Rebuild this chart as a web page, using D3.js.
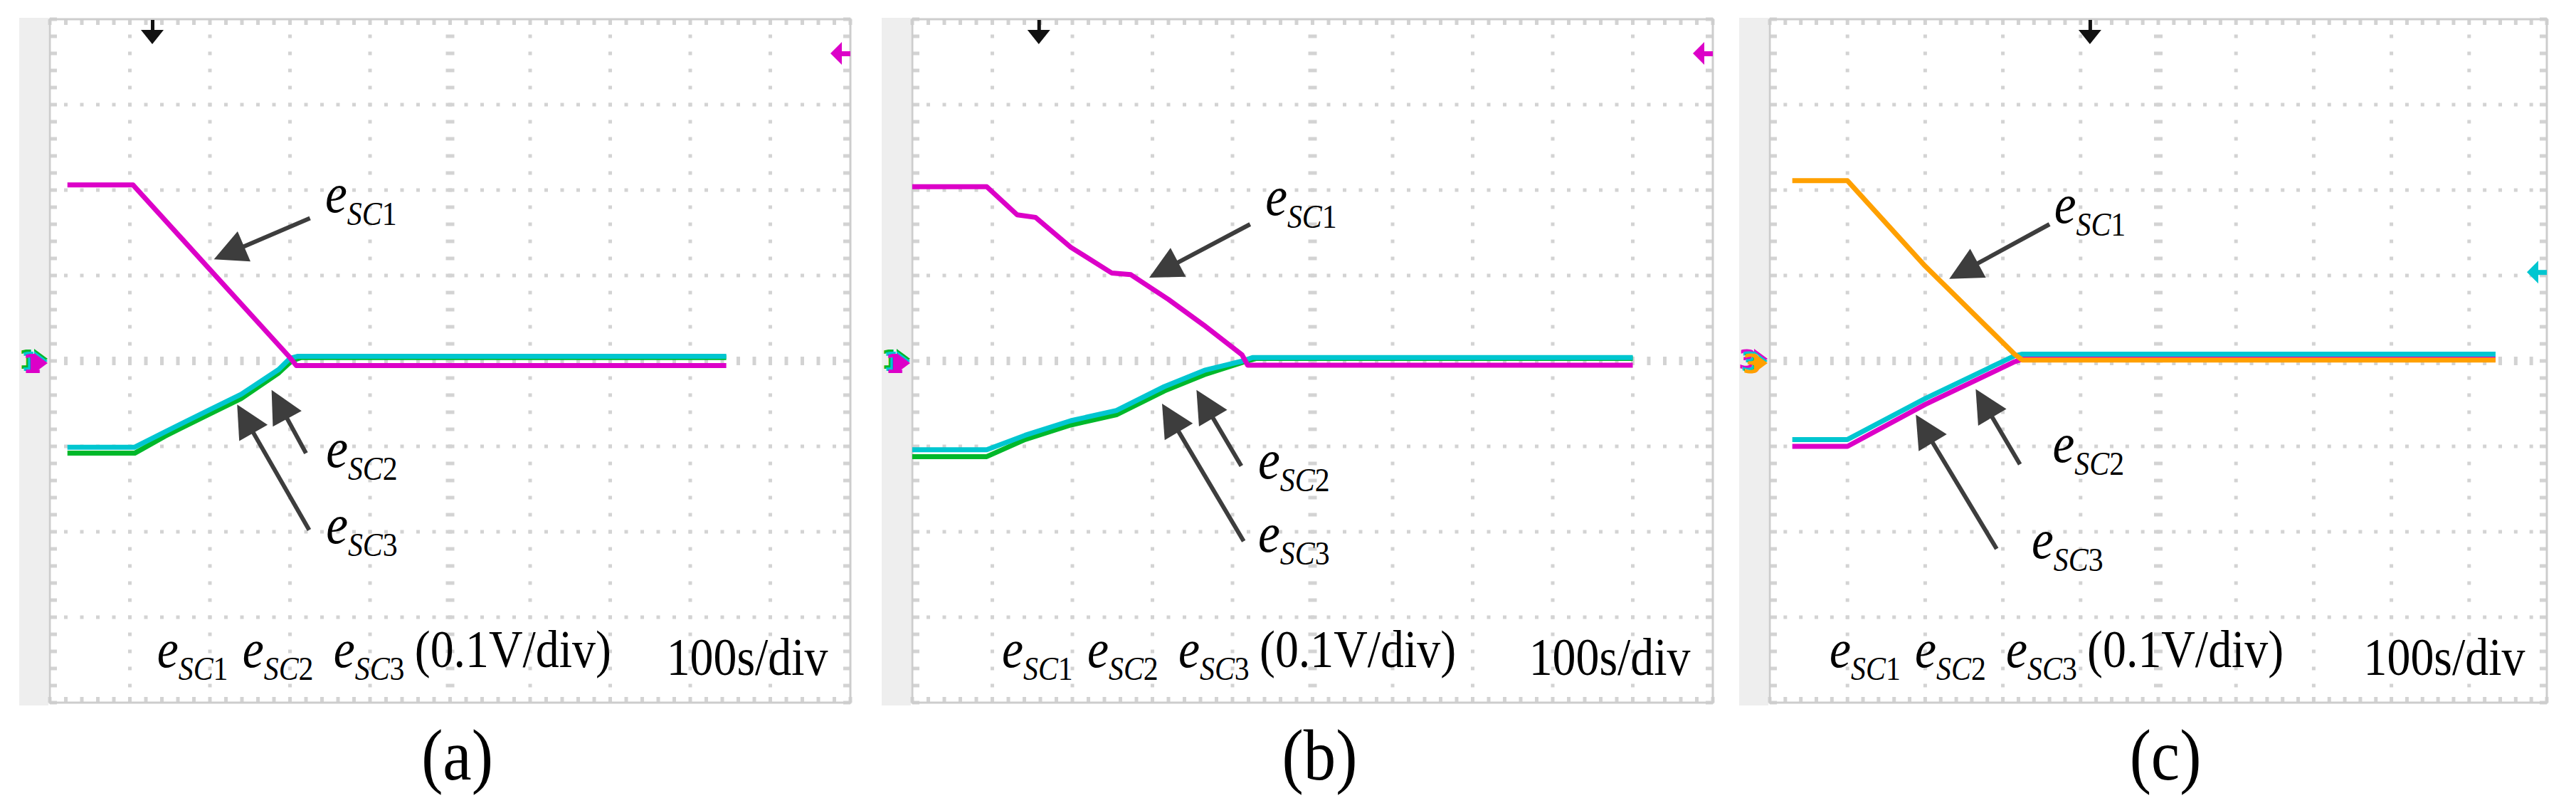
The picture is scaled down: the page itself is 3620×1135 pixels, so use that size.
<!DOCTYPE html>
<html>
<head>
<meta charset="utf-8">
<script src="https://cdn.jsdelivr.net/npm/d3@7"></script>
<style>
  body { margin: 0; background: #fff; }
  svg { display: block; }
  text { white-space: pre; font-family: 'Liberation Serif', 'Times New Roman', 'DejaVu Serif', serif; }
</style>
</head>
<body>
<svg id="chart"></svg>
<script>
const width = 3620
const height = 1135

// time in s (100 s/div), voltage in V about the centre line (0.1 V/div)
const panelLabels = ['(a)', '(b)', '(c)']
const seriesIds = ['1', '2', '3']
const voltText = '(0.1V/div)'
const timeText = '100s/div'

// panel (a) traces, [t, v]
const a_eSC1 = [[22, 0.206], [104, 0.206], [200, 0.107], [299, 0.005], [308, -0.0055], [845, -0.0055]]
const a_eSC2 = [[22, -0.101], [106, -0.101], [144, -0.083], [200, -0.057], [239, -0.039], [286, -0.010], [300, 0.003], [310, 0.0055], [845, 0.0055]]
const a_eSC3 = [[22, -0.108], [106, -0.108], [144, -0.088], [200, -0.062], [239, -0.044], [286, -0.014], [302, 0.0], [314, 0.004], [845, 0.004]]

// panel (b)
const b_eSC1 = [[0, 0.204], [93, 0.204], [131, 0.171], [154, 0.168], [198, 0.133], [249, 0.103], [273, 0.101], [320, 0.072], [364, 0.042], [412, 0.007], [419, -0.005], [900, -0.005]]
const b_eSC2 = [[0, -0.104], [93, -0.104], [141, -0.087], [198, -0.070], [255, -0.058], [315, -0.030], [365, -0.011], [413, 0.0], [425, 0.004], [900, 0.004]]
const b_eSC3 = [[0, -0.112], [93, -0.112], [141, -0.092], [198, -0.075], [255, -0.063], [315, -0.035], [365, -0.016], [415, -0.001], [430, 0.003], [900, 0.003]]

// panel (c)
const c_eSC1 = [[29, 0.211], [100, 0.211], [200, 0.111], [315, 0.008], [325, 0.001], [934, 0.001]]
const c_eSC2 = [[29, -0.092], [100, -0.092], [200, -0.044], [315, 0.006], [325, 0.008], [934, 0.008]]
const c_eSC3 = [[29, -0.100], [100, -0.100], [200, -0.051], [315, -0.001], [325, 0.002], [934, 0.002]]

// scope markers
const triggerTimes = [128, 158, 412]
const levelVolts = [0.36, 0.36, 0.104]
const channelDigits = ['1', '1', '3']

// annotation anchors [t, v]: label start, arrow tail, arrow tip (eSC1, eSC2, eSC3)
const a_labels = [[344, 0.174], [345, -0.124], [345, -0.213]]
const a_tails = [[325, 0.167], [320, -0.108], [324, -0.198]]
const a_tips = [[205, 0.119], [277, -0.034], [234, -0.051]]
const b_labels = [[441, 0.171], [432, -0.1375], [432, -0.223]]
const b_tails = [[422, 0.160], [411, -0.123], [414, -0.211]]
const b_tips = [[296, 0.0975], [355, -0.034], [312, -0.050]]
const c_labels = [[366, 0.162], [364, -0.118], [337, -0.231]]
const c_tails = [[360, 0.160], [322, -0.121], [292, -0.220]]
const c_tips = [[231, 0.096], [265, -0.033], [188, -0.063]]

// caption anchors [t, v]
const captionStart = [134, 112, 77]
const captionLevel = -0.3583
const timeTextEnd = 972
const timeTextLevel = -0.3675

//////////////////////////////////////
// layout and styles
//////////////////////////////////////
const frameTop = 27
const frameBottom = 987
const panelLayout = [
  {left: 70, width: 1125},
  {left: 1282, width: 1125},
  {left: 2487, width: 1092}
]
const magenta = '#dc00c8'
const cyan = '#00c6d0'
const green = '#00b82a'
const orange = '#ffa000'
const panelColors = [
  [magenta, cyan, green],
  [magenta, cyan, green],
  [orange, cyan, magenta]
]
const arrowColor = '#3d3d3d'
const gridColor = '#d3d3d3'
const textSqueeze = 0.89        // glyphs in the figure are narrower than they are tall
const captionOffsets = [0, 120, 248, 362]

const panels = [
  {series: [a_eSC1, a_eSC2, a_eSC3], labels: a_labels, tails: a_tails, tips: a_tips},
  {series: [b_eSC1, b_eSC2, b_eSC3], labels: b_labels, tails: b_tails, tips: b_tips},
  {series: [c_eSC1, c_eSC2, c_eSC3], labels: c_labels, tails: c_tails, tips: c_tips}
]

const svg = d3.select('#chart').attr('width', width).attr('height', height)
svg.append('rect').attr('width', width).attr('height', height).attr('fill', '#fff')

panels.forEach((p, i) => drawPanel(p, i))

// a text node placed at (x, y) and squeezed horizontally
function squeezedText(parent, x, y) {
  return parent.append('g')
    .attr('transform', `translate(${x},${y}) scale(${textSqueeze},1)`)
    .append('text').attr('x', 0).attr('y', 0).attr('fill', '#000')
}

// e with subscript SCk
function eSC(parent, x, y, id, eSize) {
  const t = squeezedText(parent, x, y)
  t.append('tspan').attr('font-style', 'italic').attr('font-size', eSize).text('e')
  t.append('tspan').attr('font-style', 'italic').attr('font-size', 47).attr('dy', 18).text('SC')
  t.append('tspan').attr('font-size', 47).text(id)
}

function drawPanel(p, i) {
  const lay = panelLayout[i]
  const colors = panelColors[i]
  const right = lay.left + lay.width
  const x = d3.scaleLinear().domain([0, 1000]).range([lay.left, right])
  const y = d3.scaleLinear().domain([-0.4, 0.4]).range([frameBottom, frameTop])
  const g = svg.append('g')

  // grey strip on the left of the screen
  g.append('rect')
    .attr('x', lay.left - 43).attr('y', frameTop - 2)
    .attr('width', 41).attr('height', frameBottom - frameTop + 6)
    .attr('fill', '#eeeeee')

  // graticule
  const minorT = d3.range(0, 51).map(k => k * 20)
  const minorV = d3.range(-20, 21).map(k => k / 50)
  const majorT = d3.range(1, 10).map(k => k * 100).filter(t => t !== 500)
  const majorV = d3.range(-3, 4).map(k => k / 10).filter(v => v !== 0)
  const grid = g.append('g').attr('fill', gridColor)

  const vDots = []
  majorT.forEach(t => minorV.slice(1, -1).forEach(v => vDots.push([t, v])))
  majorV.forEach(v => minorT.slice(1, -1).forEach(t => vDots.push([t, v])))
  grid.selectAll('rect.dot').data(vDots).enter().append('rect')
    .attr('class', 'dot')
    .attr('x', d => x(d[0]) - 2.5).attr('y', d => y(d[1]) - 2.5)
    .attr('width', 5).attr('height', 5)

  // centre cross ticks
  grid.selectAll('rect.cv').data(minorV.slice(1, -1)).enter().append('rect')
    .attr('class', 'cv')
    .attr('x', x(500) - 6).attr('y', d => y(d) - 2.5)
    .attr('width', 12).attr('height', 5)
  grid.selectAll('rect.ch').data(minorT.slice(1, -1)).enter().append('rect')
    .attr('class', 'ch')
    .attr('x', d => x(d) - 2.5).attr('y', y(0) - 6)
    .attr('width', 5).attr('height', 12)

  // border ticks
  grid.selectAll('rect.tt').data(minorT).enter().append('rect')
    .attr('class', 'tt')
    .attr('x', d => x(d) - 2.5).attr('y', frameTop)
    .attr('width', 5).attr('height', 8)
  grid.selectAll('rect.tb').data(minorT).enter().append('rect')
    .attr('class', 'tb')
    .attr('x', d => x(d) - 2.5).attr('y', frameBottom - 8)
    .attr('width', 5).attr('height', 8)
  grid.selectAll('rect.tl').data(minorV).enter().append('rect')
    .attr('class', 'tl')
    .attr('x', lay.left).attr('y', d => y(d) - 2.5)
    .attr('width', 10).attr('height', 5)
  grid.selectAll('rect.tr').data(minorV).enter().append('rect')
    .attr('class', 'tr')
    .attr('x', right - 10).attr('y', d => y(d) - 2.5)
    .attr('width', 10).attr('height', 5)

  g.append('rect')
    .attr('x', lay.left).attr('y', frameTop)
    .attr('width', lay.width).attr('height', frameBottom - frameTop)
    .attr('fill', 'none').attr('stroke', '#cdcdcd').attr('stroke-width', 3)

  // traces, eSC3 first so eSC1 sits on top
  const line = d3.line().x(d => x(d[0])).y(d => y(d[1]))
  const order = [2, 1, 0]
  g.selectAll('path.trace').data(order).enter().append('path')
    .attr('class', 'trace')
    .attr('d', k => line(p.series[k]))
    .attr('fill', 'none')
    .attr('stroke', k => colors[k])
    .attr('stroke-width', 7)
    .attr('stroke-linejoin', 'round')

  // channel markers on the left of the centre line
  order.forEach((k, j) => {
    const yc = y(0) + (j - 1) * 3
    g.append('path')
      .attr('d', `M${lay.left - 22},${yc - 14} L${lay.left - 3},${yc} L${lay.left - 22},${yc + 14} Z`)
      .attr('fill', colors[k])
    g.append('text')
      .attr('x', lay.left - 44 + j * 3).attr('y', yc + 14)
      .style('font-family', 'DejaVu Sans').attr('font-weight', 'bold')
      .attr('font-size', 38).attr('fill', colors[k])
      .text(channelDigits[i])
  })

  // trigger position marker
  const tx = x(triggerTimes[i])
  g.append('rect').attr('x', tx - 2).attr('y', frameTop + 1).attr('width', 5).attr('height', 18).attr('fill', '#111')
  g.append('path')
    .attr('d', `M${tx - 16},${frameTop + 15} L${tx + 16},${frameTop + 15} L${tx},${frameTop + 35} Z`)
    .attr('fill', '#111')

  // trigger level marker
  const ly = y(levelVolts[i])
  const levelColor = i === 2 ? cyan : magenta
  g.append('path')
    .attr('d', `M${right - 28},${ly} L${right - 12},${ly - 16} L${right - 12},${ly + 16} Z`)
    .attr('fill', levelColor)
  g.append('rect').attr('x', right - 16).attr('y', ly - 3).attr('width', 16).attr('height', 7).attr('fill', levelColor)

  // arrows
  p.tails.forEach((tail, k) => {
    const x0 = x(tail[0]), y0 = y(tail[1])
    const x1 = x(p.tips[k][0]), y1 = y(p.tips[k][1])
    const ang = Math.atan2(y1 - y0, x1 - x0)
    const headLen = 46, headHalf = 23
    const bx = x1 - headLen * Math.cos(ang), by = y1 - headLen * Math.sin(ang)
    g.append('line')
      .attr('x1', x0).attr('y1', y0).attr('x2', bx + 4 * Math.cos(ang)).attr('y2', by + 4 * Math.sin(ang))
      .attr('stroke', arrowColor).attr('stroke-width', 6)
    const px = -Math.sin(ang) * headHalf, py = Math.cos(ang) * headHalf
    g.append('path')
      .attr('d', `M${x1},${y1} L${bx + px},${by + py} L${bx - px},${by - py} Z`)
      .attr('fill', arrowColor)
  })

  // labels e_SCk
  p.labels.forEach((lab, k) => eSC(g, x(lab[0]), y(lab[1]), seriesIds[k], 78))

  // caption inside the screen
  const cx = x(captionStart[i]), cy = y(captionLevel)
  seriesIds.forEach((id, k) => eSC(g, cx + captionOffsets[k], cy, id, 76))
  squeezedText(g, cx + captionOffsets[3], cy).attr('font-size', 74).text(voltText)

  squeezedText(g, x(timeTextEnd), y(timeTextLevel))
    .attr('text-anchor', 'end').attr('font-size', 74)
    .text(timeText)

  // panel label
  squeezedText(g, (lay.left + right) / 2 + 10, 1095)
    .attr('text-anchor', 'middle').attr('font-size', 102)
    .text(panelLabels[i])
}
</script>
</body>
</html>
